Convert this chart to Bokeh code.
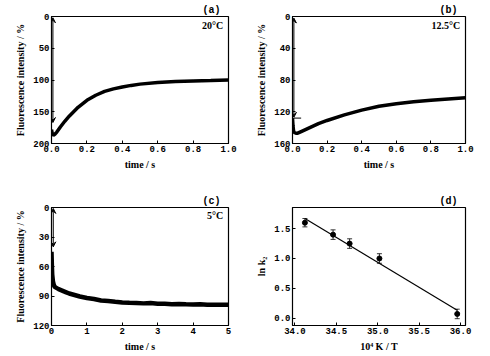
from bokeh.plotting import figure
from bokeh.models import Range1d, Label, Arrow, VeeHead, TeeHead, Whisker, ColumnDataSource, FixedTicker
from bokeh.layouts import gridplot
from bokeh.embed import file_html
from bokeh.resources import INLINE

FONT = "Liberation Serif"
TICKFONT = "Liberation Mono"

# (a) 20 °C
a_t = [0.0, 0.005, 0.01, 0.02, 0.03, 0.05, 0.075, 0.1, 0.125, 0.15, 0.2, 0.25, 0.3, 0.35, 0.4, 0.45, 0.5, 0.6, 0.7, 0.8, 0.9, 1.0]
a_f = [178, 185, 187, 185, 182, 174, 165, 157, 150, 143, 132, 124, 118, 114, 111, 108.5, 106.5, 104, 102.5, 101.5, 100.8, 100]
# (b) 12.5 °C
b_t = [0.0, 0.003, 0.006, 0.01, 0.02, 0.03, 0.05, 0.1, 0.15, 0.2, 0.3, 0.4, 0.5, 0.6, 0.7, 0.8, 0.9, 1.0]
b_f = [128, 138, 144, 146, 147, 147, 145, 140, 135, 131, 124, 118, 113, 110, 107.5, 105.5, 104, 102.5]
# (c) 5 °C
c_t = [0.0, 0.01, 0.02, 0.04, 0.06, 0.08, 0.1, 0.2, 0.3, 0.4, 0.5, 0.6, 0.8, 1.0, 1.2, 1.4, 1.6, 1.8, 2.0, 2.2, 2.4, 2.6, 2.8, 3.0, 3.2, 3.4, 3.6, 3.8, 4.0, 4.2, 4.4, 4.6, 4.8, 5.0]
c_f = [45, 58, 68, 75, 78, 80, 81, 83, 84.5, 86, 87.5, 88.5, 90.5, 92, 93, 94.5, 95, 95.8, 96.5, 96.8, 97, 97.5, 97.2, 97.8, 98, 98.3, 98.1, 98.5, 98.6, 98.4, 98.8, 99, 98.8, 99]
# (d) Arrhenius plot
d_x = [34.12, 34.46, 34.66, 35.02, 35.96]
d_y = [1.60, 1.40, 1.25, 1.00, 0.07]
d_err = [0.07, 0.08, 0.08, 0.08, 0.08]
fit_x = [34.12, 35.96]
fit_y = [1.67, 0.13]


def style(p, xticks, yticks, xfmt=None, yfmt=None):
    p.outline_line_color = "black"
    p.outline_line_width = 1.2
    p.grid.visible = False
    for ax in (p.xaxis[0], p.yaxis[0]):
        ax.major_label_text_font = TICKFONT
        ax.major_label_text_font_style = "bold"
        ax.major_label_text_font_size = "9px"
        ax.major_label_text_color = "black"
        ax.axis_label_text_font = FONT
        ax.axis_label_text_font_style = "bold"
        ax.axis_label_text_font_size = "10px"
        ax.axis_label_text_color = "black"
        ax.axis_line_color = "black"
        ax.major_tick_in = 3
        ax.major_tick_out = 0
        ax.minor_tick_line_color = None
        ax.major_label_standoff = 2
        ax.axis_label_standoff = 4
    p.xaxis[0].ticker = FixedTicker(ticks=xticks)
    p.yaxis[0].ticker = FixedTicker(ticks=yticks)
    if xfmt:
        p.xaxis[0].major_label_overrides = xfmt
    if yfmt:
        p.yaxis[0].major_label_overrides = yfmt


def panel(w, h, bl, br, bt, bb, xr, yr, tag):
    p = figure(width=w, height=h, output_backend="svg", toolbar_location=None,
               x_range=xr, y_range=yr, title=tag,
               min_border_left=bl, min_border_right=br, min_border_top=bt, min_border_bottom=bb)
    p.title.align = "right"
    p.title.text_font = TICKFONT
    p.title.text_font_style = "bold"
    p.title.text_font_size = "10px"
    p.title.text_color = "black"
    p.title.standoff = 1
    p.title.offset = 8
    return p


def add_text(p, x, y, t, size="10px", font=FONT):
    p.add_layout(Label(x=x, y=y, text=t, text_font=font, text_font_style="bold",
                       text_font_size=size, text_color="black", text_align="right",
                       text_baseline="middle"))


def add_arrow(p, x, y0, y1):
    p.add_layout(Arrow(x_start=x, y_start=y1, x_end=x, y_end=y0,
                       start=VeeHead(size=5, line_width=1), end=VeeHead(size=5, line_width=1),
                       line_width=1, line_color="black"))


XF = {0: "0.0", 0.2: "0.2", 0.4: "0.4", 0.6: "0.6", 0.8: "0.8", 1.0: "1.0"}

# Panel a
pa = panel(245, 178, 50, 17, 16, 35, Range1d(0, 1), Range1d(200, 0), "(a)")
pa.line(a_t, a_f, line_width=3.5, line_color="black")
style(pa, [0, 0.2, 0.4, 0.6, 0.8, 1.0], [0, 50, 100, 150, 200], XF)
pa.xaxis.axis_label = "time / s"
pa.yaxis.axis_label = "Fluorescence intensity / %"
add_arrow(pa, 0.008, 2, 167)
add_text(pa, 0.97, 14, "20°C")

# Panel b
pb = panel(244, 178, 46, 21, 16, 35, Range1d(0, 1), Range1d(160, 0), "(b)")
pb.line(b_t, b_f, line_width=3.5, line_color="black")
style(pb, [0, 0.2, 0.4, 0.6, 0.8, 1.0], [0, 40, 80, 120, 160], XF)
pb.xaxis.axis_label = "time / s"
pb.yaxis.axis_label = "Fluorescence intensity / %"
add_arrow(pb, 0.008, 2, 127)
pb.segment(x0=[0.008], y0=[128], x1=[0.05], y1=[128], line_color="black", line_width=1)
add_text(pb, 0.97, 11, "12.5°C")

# Panel c
pc = panel(245, 176, 51, 17, 29, 23, Range1d(0, 5), Range1d(120, 0), "(c)")
pc.line(c_t, c_f, line_width=4.5, line_color="black")
style(pc, [0, 1, 2, 3, 4, 5], [0, 30, 60, 90, 120])
pc.xaxis.axis_label = "time / s"
pc.yaxis.axis_label = "Fluorescence intensity / %"
add_arrow(pc, 0.05, 1, 40)
add_text(pc, 4.85, 8, "5°C")

# Panel d
pd = panel(244, 176, 47, 24, 24, 24, Range1d(33.97, 36.06), Range1d(-0.124, 1.855), "(d)")
pd.line(fit_x, fit_y, line_width=1.2, line_color="black")
src = ColumnDataSource(dict(x=d_x, y=d_y,
                            lo=[v - e for v, e in zip(d_y, d_err)],
                            hi=[v + e for v, e in zip(d_y, d_err)]))
pd.add_layout(Whisker(source=src, base="x", lower="lo", upper="hi", line_width=0.8,
                      lower_head=TeeHead(size=5, line_width=0.8), upper_head=TeeHead(size=5, line_width=0.8)))
pd.scatter("x", "y", source=src, size=5, color="black")
style(pd, [34.0, 34.5, 35.0, 35.5, 36.0], [0.0, 0.5, 1.0, 1.5],
      {34: "34.0", 34.5: "34.5", 35: "35.0", 35.5: "35.5", 36: "36.0"},
      {0: "0.0", 0.5: "0.5", 1: "1.0", 1.5: "1.5"})
pd.xaxis.axis_label = "10⁴ K / T"
pd.yaxis.axis_label = "ln k₂"

grid = gridplot([[pa, pb], [pc, pd]], toolbar_location=None)
open("out.html", "w").write(file_html(grid, INLINE))
